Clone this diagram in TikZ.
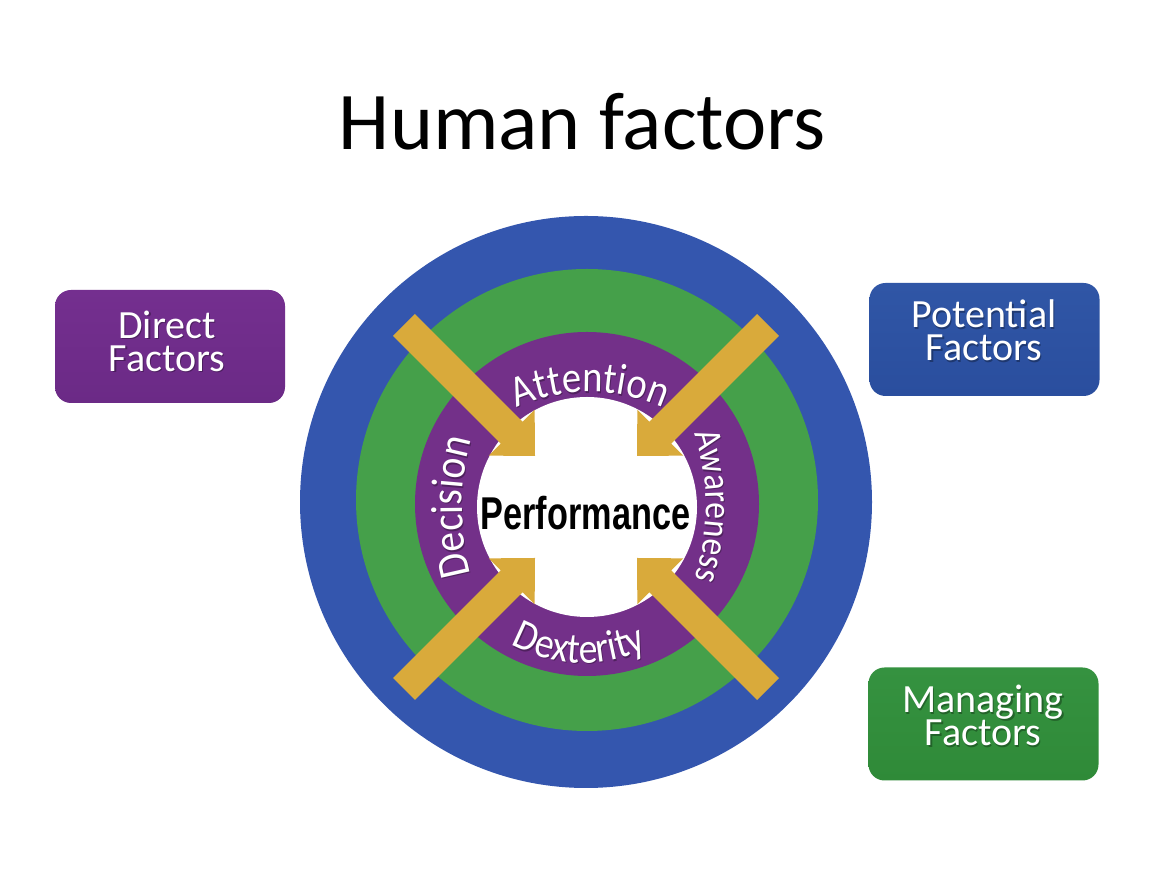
\documentclass[tikz,border=0pt]{standalone}
\usepackage{fontspec}
\usepackage{graphicx}
\setmainfont{Carlito}
\newfontfamily\perffont{Liberation Sans}
\newfontfamily\ringfont[FakeStretch=0.88]{Carlito}
\usetikzlibrary{calc,decorations.text}
\definecolor{ringblue}{HTML}{3456AE}
\definecolor{ringgreen}{HTML}{45A04A}
\definecolor{ringpurple}{HTML}{733089}
\definecolor{arrowgold}{HTML}{D9AA3B}
\definecolor{boxpurple}{HTML}{6B2A86}
\definecolor{boxpurpletop}{HTML}{742F8F}
\definecolor{boxblue}{HTML}{2A4E9E}
\definecolor{boxbluetop}{HTML}{3056A6}
\definecolor{boxgreen}{HTML}{2F8A38}
\definecolor{boxgreentop}{HTML}{359240}
\tikzset{
  factorbox/.style={rounded corners=16pt, minimum width=230pt, minimum height=113pt, inner sep=0pt},
  factortext/.style={align=center, text=white, inner sep=0pt, font=\fontsize{40}{33}\selectfont},
  factorshadow/.style={align=center, text=black, text opacity=0.3, inner sep=0pt, font=\fontsize{40}{33}\selectfont},
}
% arrow polygon between two named coordinates: tail, tip
\newcommand\goldarrow[2]{%
  \coordinate (#1hb) at ($(#2)!33pt!(#1)$);
  \fill[arrowgold] ($(#1)!15.5pt!90:(#2)$) -- ($(#1hb)!15.5pt!90:(#2)$) -- ($(#1hb)!32.5pt!90:(#2)$)
     -- (#2) -- ($(#1hb)!32.5pt!-90:(#2)$) -- ($(#1hb)!15.5pt!-90:(#2)$) -- ($(#1)!15.5pt!-90:(#2)$) -- cycle;}
% text along an arc: centre coordinate, start angle, end angle, radius, font size, text
\newcommand\ringtext[6]{%
  \begin{scope}[opacity=0.3]
  \path[decorate, decoration={text along path, text align=center, text color=black,
      text={|\ringfont\fontsize{#5}{#5}\selectfont|#6}}]
      ($(#1)+(1,-1.5)+(#2:#4)$) arc[start angle=#2, end angle=#3, radius=#4pt];
  \end{scope}
  \path[decorate, decoration={text along path, text align=center, text color=white,
      text={|\ringfont\fontsize{#5}{#5}\selectfont|#6}}]
      ($(#1)+(#2:#4)$) arc[start angle=#2, end angle=#3, radius=#4pt];}
% box with its text: name, colour, top colour, box centre x, y, text centre x, y, text
\newcommand\factorbox[8]{%
  \node[factorbox, top color=#3, bottom color=#2] (#1) at (#4,#5) {};
  \node[factorshadow] at ($(#6,#7)+(1.2,-1.6)$) {#8};
  \node[factortext] (#1text) at (#6,#7) {#8};}
\begin{document}
\begin{tikzpicture}[x=1pt,y=1pt]
\useasboundingbox (0,0) rectangle (1168,880);
\fill[white] (0,0) rectangle (1168,880);
% title
\node[anchor=base, inner sep=0pt, font=\fontsize{82}{82}\selectfont] (title) at (582.5,730) {Human factors};
% rings
\coordinate (Cb) at (586,378);
\coordinate (Cg) at (587,380);
\coordinate (C) at (587,376);
\coordinate (Cw) at (587,373);
\fill[ringblue] (Cb) circle[radius=286pt];
\fill[ringgreen] (Cg) circle[radius=231pt];
\fill[ringpurple] (C) circle[radius=172pt];
\fill[white] (Cw) circle[radius=110pt];
% arrows
\coordinate (tlTail) at (404,555);
\coordinate (tlTip) at (535,424);
\coordinate (trTail) at (768,555);
\coordinate (trTip) at (637,424);
\coordinate (blTail) at (404,191);
\coordinate (blTip) at (535,322);
\coordinate (brTail) at (768,191);
\coordinate (brTip) at (637,322);
\goldarrow{tlTail}{tlTip}
\goldarrow{trTail}{trTip}
\goldarrow{blTail}{blTip}
\goldarrow{brTail}{brTip}
% ring texts (each on its own arc)
\coordinate (attC) at (590,308);
\coordinate (decC) at (712,373);
\coordinate (awaC) at (476,374);
\coordinate (dexC) at (584,367);
\ringtext{attC}{125}{55}{180}{44}{Attention}
\ringtext{decC}{202}{158}{250}{45}{Decision}
\ringtext{awaC}{26}{-26}{230}{38}{Awareness}
\ringtext{dexC}{218}{318}{150}{43}{Dexterity}
% centre
\node[anchor=base, inner sep=0pt, font=\perffont\bfseries\fontsize{46}{46}\selectfont] (perf) at (585.5,350) {\scalebox{0.745}[1]{Performance}};
% boxes
\factorbox{direct}{boxpurple}{boxpurpletop}{170}{533.5}{167}{539}{Direct\\Factors}
\factorbox{potential}{boxblue}{boxbluetop}{984.5}{540.5}{984}{549.5}{Potential\\Factors}
\factorbox{managing}{boxgreen}{boxgreentop}{983.5}{156}{983}{164.5}{Managing\\Factors}
\end{tikzpicture}
\end{document}
